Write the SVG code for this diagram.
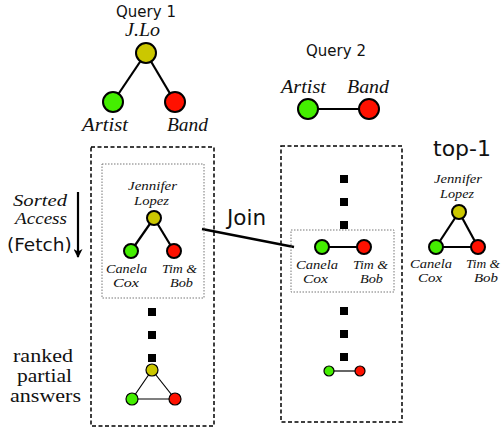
<svg xmlns="http://www.w3.org/2000/svg" width="501" height="431" viewBox="0 0 501 431">
<defs>
<style>
.sans{font-family:"DejaVu Sans",Verdana,sans-serif;fill:#111}
.it{font-family:"Liberation Serif","Times New Roman",serif;font-style:italic;fill:#111}
.rm{font-family:"Liberation Serif","Times New Roman",serif;fill:#111}
.big{font-size:18px}
.sm{font-size:13.5px}
.y{fill:#cbc700;stroke:#000;stroke-width:2}
.g{fill:#44ee00;stroke:#000;stroke-width:2}
.r{fill:#ff1100;stroke:#000;stroke-width:2}
.e{stroke:#000;stroke-width:2.2;fill:none}
.et{stroke:#000;stroke-width:1.2;fill:none}
.dash{fill:none;stroke:#000;stroke-width:1.5;stroke-dasharray:4,2.5}
.dot{fill:none;stroke:#777;stroke-width:1;stroke-dasharray:1.5,1.5}
.sq{fill:#000}
</style>
<marker id="ah" viewBox="0 0 10 10" refX="9" refY="5" markerWidth="15" markerHeight="9" orient="auto" markerUnits="userSpaceOnUse">
<path d="M0,0 L10,5 L0,10 L3,5 z" fill="#000"/>
</marker>
</defs>
<rect width="501" height="431" fill="#fff"/>

<g id="connectors">
<line class="e" x1="146" y1="53" x2="113" y2="102"/>
<line class="e" x1="146" y1="53" x2="175" y2="102"/>
<line class="e" x1="308" y1="109" x2="369" y2="109"/>
<line class="e" x1="154" y1="218" x2="131" y2="251"/>
<line class="e" x1="154" y1="218" x2="174" y2="251"/>
<line class="et" x1="152" y1="370" x2="132" y2="399"/>
<line class="et" x1="152" y1="370" x2="175" y2="399"/>
<line class="et" x1="132" y1="399" x2="175" y2="399"/>
<line class="e" x1="322" y1="247" x2="364" y2="247"/>
<line class="et" x1="329" y1="371" x2="360" y2="371"/>
<line class="e" x1="459" y1="212" x2="436" y2="247"/>
<line class="e" x1="459" y1="212" x2="478" y2="247"/>
<line class="e" x1="436" y1="247" x2="478" y2="247"/>
<line x1="202" y1="229" x2="294" y2="247" stroke="#000" stroke-width="2.5"/>
<line x1="78" y1="192" x2="78" y2="257" stroke="#000" stroke-width="2.2" marker-end="url(#ah)"/>
</g>

<g id="query1">
<text class="sans" x="146" y="17" font-size="15" text-anchor="middle">Query 1</text>
<text class="it big" x="125" y="36" textLength="35" lengthAdjust="spacingAndGlyphs">J.Lo</text>
<circle class="y" cx="146" cy="53" r="10"/>
<circle class="g" cx="113" cy="102" r="10"/>
<circle class="r" cx="175" cy="102" r="10"/>
<text class="it big" x="82" y="131" textLength="46" lengthAdjust="spacingAndGlyphs">Artist</text>
<text class="it big" x="167" y="131" textLength="41" lengthAdjust="spacingAndGlyphs">Band</text>
</g>

<g id="query2">
<text class="sans" x="336" y="56" font-size="15" text-anchor="middle">Query 2</text>
<text class="it big" x="281" y="93" textLength="45" lengthAdjust="spacingAndGlyphs">Artist</text>
<text class="it big" x="347" y="93" textLength="42" lengthAdjust="spacingAndGlyphs">Band</text>
<circle class="g" cx="308" cy="109" r="10"/>
<circle class="r" cx="369" cy="109" r="10"/>
</g>

<g id="sorted-access">
<text class="it" x="13" y="206" font-size="16" textLength="54" lengthAdjust="spacingAndGlyphs">Sorted</text>
<text class="it" x="15" y="224" font-size="16" textLength="52" lengthAdjust="spacingAndGlyphs">Access</text>
<text class="sans" x="7" y="251" font-size="18.5">(Fetch)</text>
</g>

<g id="ranked-label">
<text class="rm" x="13" y="362" font-size="19" textLength="60" lengthAdjust="spacingAndGlyphs">ranked</text>
<text class="rm" x="17" y="382" font-size="19" textLength="55" lengthAdjust="spacingAndGlyphs">partial</text>
<text class="rm" x="10" y="402" font-size="19" textLength="71" lengthAdjust="spacingAndGlyphs">answers</text>
</g>

<g id="left-box">
<rect class="dash" x="91" y="147" width="123" height="279"/>
<rect class="dot" x="102" y="164" width="102" height="134"/>
<text class="it sm" x="128" y="190" textLength="49" lengthAdjust="spacingAndGlyphs">Jennifer</text>
<text class="it sm" x="134" y="205" textLength="35" lengthAdjust="spacingAndGlyphs">Lopez</text>
<circle class="y" cx="154" cy="218" r="7"/>
<circle class="g" cx="131" cy="251" r="7"/>
<circle class="r" cx="174" cy="251" r="7"/>
<text class="it sm" x="106" y="273" textLength="41" lengthAdjust="spacingAndGlyphs">Canela</text>
<text class="it sm" x="113" y="287" textLength="26" lengthAdjust="spacingAndGlyphs">Cox</text>
<text class="it sm" x="162" y="273" textLength="35" lengthAdjust="spacingAndGlyphs">Tim &amp;</text>
<text class="it sm" x="170" y="287" textLength="23" lengthAdjust="spacingAndGlyphs">Bob</text>
<rect class="sq" x="148" y="308" width="8" height="8"/>
<rect class="sq" x="148" y="331" width="8" height="8"/>
<rect class="sq" x="148" y="354" width="8" height="8"/>
<circle cx="152" cy="370" r="6" fill="#cbc700" stroke="#000" stroke-width="1.2"/>
<circle cx="132" cy="399" r="6" fill="#44ee00" stroke="#000" stroke-width="1.2"/>
<circle cx="175" cy="399" r="6" fill="#ff1100" stroke="#000" stroke-width="1.2"/>
</g>

<g id="join-label">
<text class="sans" x="227" y="225" font-size="21.5">Join</text>
</g>

<g id="right-box">
<rect class="dash" x="281" y="146" width="121" height="276"/>
<rect class="sq" x="340" y="175" width="8" height="8"/>
<rect class="sq" x="340" y="198" width="8" height="8"/>
<rect class="sq" x="340" y="221" width="8" height="8"/>
<rect class="dot" x="291" y="230" width="103" height="62"/>
<circle class="g" cx="322" cy="247" r="7"/>
<circle class="r" cx="364" cy="247" r="7"/>
<text class="it sm" x="296" y="269" textLength="42" lengthAdjust="spacingAndGlyphs">Canela</text>
<text class="it sm" x="303" y="283" textLength="25" lengthAdjust="spacingAndGlyphs">Cox</text>
<text class="it sm" x="353" y="269" textLength="35" lengthAdjust="spacingAndGlyphs">Tim &amp;</text>
<text class="it sm" x="360" y="283" textLength="23" lengthAdjust="spacingAndGlyphs">Bob</text>
<rect class="sq" x="340" y="307" width="8" height="8"/>
<rect class="sq" x="340" y="330" width="8" height="8"/>
<rect class="sq" x="340" y="353" width="8" height="8"/>
<circle cx="329" cy="371" r="5" fill="#44ee00" stroke="#000" stroke-width="1.2"/>
<circle cx="360" cy="371" r="5" fill="#ff1100" stroke="#000" stroke-width="1.2"/>
</g>

<g id="top1">
<text class="sans" x="433" y="156" font-size="22">top-1</text>
<text class="it sm" x="434" y="183" textLength="48" lengthAdjust="spacingAndGlyphs">Jennifer</text>
<text class="it sm" x="440" y="198" textLength="34" lengthAdjust="spacingAndGlyphs">Lopez</text>
<circle class="y" cx="459" cy="212" r="7"/>
<circle class="g" cx="436" cy="247" r="7"/>
<circle class="r" cx="478" cy="247" r="7"/>
<text class="it sm" x="410" y="268" textLength="42" lengthAdjust="spacingAndGlyphs">Canela</text>
<text class="it sm" x="418" y="282" textLength="24" lengthAdjust="spacingAndGlyphs">Cox</text>
<text class="it sm" x="466" y="268" textLength="34" lengthAdjust="spacingAndGlyphs">Tim &amp;</text>
<text class="it sm" x="474" y="282" textLength="24" lengthAdjust="spacingAndGlyphs">Bob</text>
</g>
</svg>
